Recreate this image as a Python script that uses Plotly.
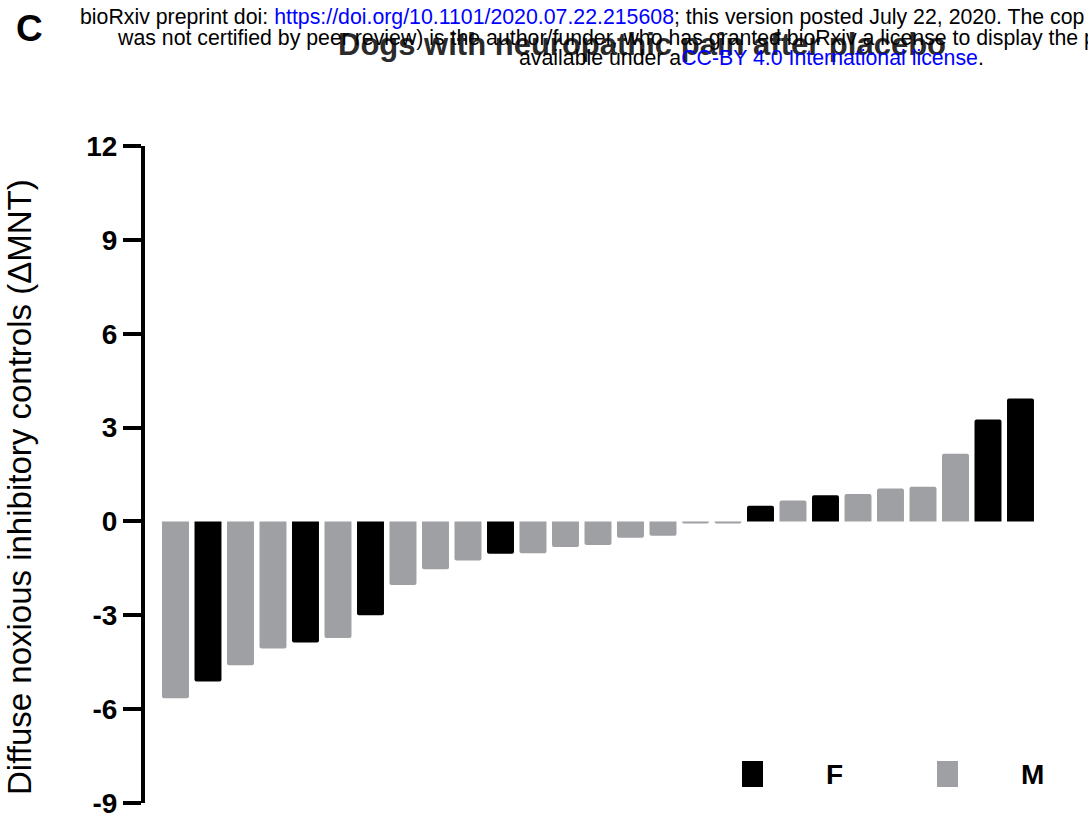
import plotly.graph_objects as go

# Change in diffuse noxious inhibitory controls (ΔMNT) per dog, sorted ascending
dnic_change = [-5.65, -5.12, -4.6, -4.06, -3.87, -3.73, -3.0, -2.03, -1.53, -1.25,
               -1.03, -1.02, -0.82, -0.75, -0.52, -0.46, -0.07, -0.07, 0.5, 0.67,
               0.84, 0.88, 1.05, 1.11, 2.16, 3.26, 3.93]
sex = ["M", "F", "M", "M", "F", "M", "F", "M", "M", "M",
       "F", "M", "M", "M", "M", "M", "M", "M", "F", "M",
       "F", "M", "M", "M", "M", "F", "F"]

y_ticks = [-9, -6, -3, 0, 3, 6, 9, 12]
sex_colors = {"F": "#000000", "M": "#9fa0a4"}
legend_labels = ["F", "M"]

W, H = 1088, 818
L, R, T, B = 145, 1088, 146, 803


def px_x(px):
    return (px - L) / (R - L)


def px_y(py):
    return (B - py) / (B - T)


positions = list(range(len(dnic_change)))

fig = go.Figure()
for s in legend_labels:
    xs = [p for p, g in zip(positions, sex) if g == s]
    ys = [v for v, g in zip(dnic_change, sex) if g == s]
    fig.add_trace(go.Bar(
        x=xs, y=ys, name=s,
        marker=dict(color=sex_colors[s], line=dict(width=0), cornerradius=2),
        showlegend=False,
    ))

fig.update_layout(
    width=W, height=H,
    margin=dict(l=L, r=W - R, t=T, b=H - B, pad=0),
    paper_bgcolor="white", plot_bgcolor="white",
    bargap=0.17, barmode="overlay",
    font=dict(family="Liberation Sans, Arial, sans-serif", color="#000"),
    xaxis=dict(
        range=[-0.938, 28.077], showgrid=False, zeroline=False,
        showline=False, showticklabels=False, ticks="",
    ),
    yaxis=dict(
        range=[-9.0001, 12], tickvals=y_ticks, ticktext=[str(v) for v in y_ticks],
        showgrid=False, zeroline=False,
        showline=True, linecolor="#000", linewidth=4,
        ticks="outside", ticklen=18, tickwidth=4, tickcolor="#000",
        tickfont=dict(size=28, weight="bold", color="#000"),
        ticklabelstandoff=0, ticklabeloverflow="allow",
    ),
)

annotations = []

# panel letter
annotations.append(dict(
    x=px_x(29), y=px_y(29), xref="paper", yref="paper",
    text="C", showarrow=False, xanchor="center", yanchor="middle",
    font=dict(size=37, weight="bold", color="#000"),
))

# chart title
annotations.append(dict(
    x=px_x(642), y=px_y(45), xref="paper", yref="paper",
    text="Dogs with neuropathic pain after placebo", showarrow=False,
    xanchor="center", yanchor="middle",
    font=dict(size=31, weight="bold", color="#2b2b2b"),
))

# preprint notice
blue = "#0000ff"
notice = [
    (78, 17, "bioRxiv preprint doi: <span style='color:%s'>https://doi.org/10.1101/2020.07.22.215608</span>; "
             "this version posted July 22, 2020. The cop" % blue),
    (115, 38, "was not certified by peer review) is the author/funder, who has granted bioRxiv a license "
              "to display the p"),
    (517, 58, "available under a<span style='color:%s'>CC-BY 4.0 International license</span>." % blue),
]
for x0, yc, txt in notice:
    annotations.append(dict(
        x=px_x(x0), y=px_y(yc), xref="paper", yref="paper",
        text=txt, showarrow=False, xanchor="left", yanchor="middle",
        font=dict(size=21.3, color="#000"),
    ))

# y-axis title
annotations.append(dict(
    x=px_x(19), y=px_y(487), xref="paper", yref="paper",
    text="Diffuse noxious inhibitory controls (ΔMNT)", showarrow=False,
    textangle=-90, xanchor="center", yanchor="middle",
    font=dict(size=33, color="#000"),
))

# legend labels
for lx, label in [(834, "F"), (1032, "M")]:
    annotations.append(dict(
        x=px_x(lx), y=px_y(774), xref="paper", yref="paper",
        text=label, showarrow=False, xanchor="center", yanchor="middle",
        font=dict(size=28, weight="bold", color="#000"),
    ))

shapes = []
for (x0, x1), label in [((742, 763), "F"), ((937, 958), "M")]:
    shapes.append(dict(
        type="rect", xref="paper", yref="paper",
        x0=px_x(x0), x1=px_x(x1), y0=px_y(787), y1=px_y(761),
        fillcolor=sex_colors[label], line=dict(width=0),
    ))

fig.update_layout(annotations=annotations, shapes=shapes)

fig.write_html("out.html")
